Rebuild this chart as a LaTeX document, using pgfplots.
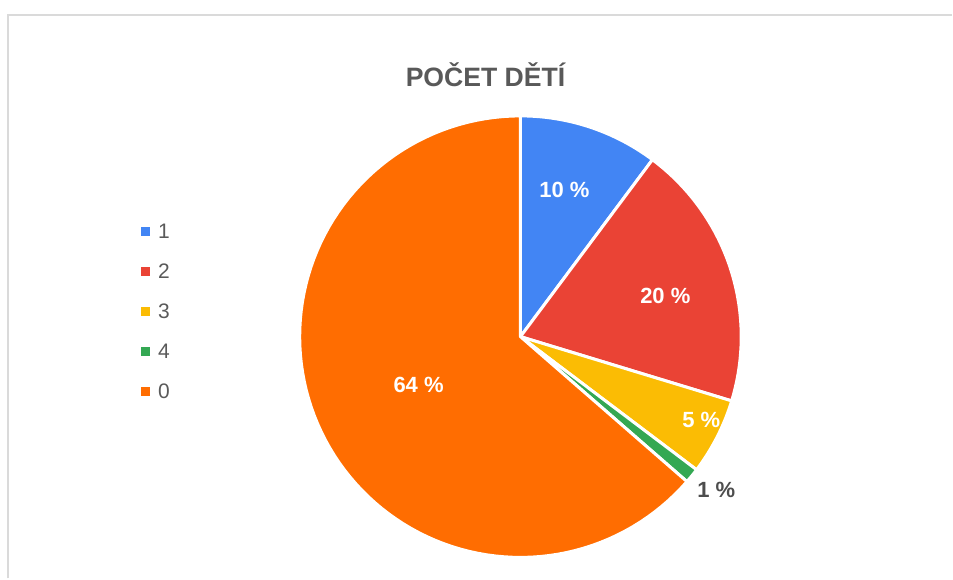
\documentclass[border=0pt]{standalone}
\usepackage{pgfplots}
\pgfplotsset{compat=1.18}
\usepackage{fontspec}
\setmainfont{Liberation Sans}
\definecolor{c1}{HTML}{4285F4}
\definecolor{c2}{HTML}{EA4335}
\definecolor{c3}{HTML}{FBBC04}
\definecolor{c4}{HTML}{34A853}
\definecolor{c0}{HTML}{FF6D01}
\definecolor{frame}{HTML}{DADADA}
\definecolor{ttl}{HTML}{595959}
\definecolor{lbl}{HTML}{4D4D4D}
\definecolor{leg}{HTML}{5A5A5A}
\begin{document}
\begin{tikzpicture}
\begin{axis}[
  scale only axis, width=476.5pt, height=289.5pt,
  xmin=-521, xmax=432, ymin=-242, ymax=337,
  hide axis, clip=false,
]
\fill[white] (axis cs:-521,-242) rectangle (axis cs:432,337);
\draw[frame, line width=1pt] (axis cs:-513,-242) -- (axis cs:-513,321.5) -- (axis cs:432,321.5);
% slices: 10.2, 19.5, 5.6, 1.1, 63.6 percent (clockwise from top)
\addplot[fill=c1, draw=white, line width=1.5pt, line join=round, data cs=polar, domain=90:53.28, samples=30] {221} -- (axis cs:0,0) -- cycle;
\addplot[fill=c2, draw=white, line width=1.5pt, line join=round, data cs=polar, domain=53.28:-16.92, samples=40] {221} -- (axis cs:0,0) -- cycle;
\addplot[fill=c3, draw=white, line width=1.5pt, line join=round, data cs=polar, domain=-16.92:-37.08, samples=20] {221} -- (axis cs:0,0) -- cycle;
\addplot[fill=c4, draw=white, line width=1.5pt, line join=round, data cs=polar, domain=-37.08:-41.04, samples=6] {221} -- (axis cs:0,0) -- cycle;
\addplot[fill=c0, draw=white, line width=1.5pt, line join=round, data cs=polar, domain=-41.04:-270, samples=100] {221} -- (axis cs:0,0) -- cycle;
% legend
\foreach \c/\t/\y in {c1/1/0, c2/2/40, c3/3/80, c4/4/120, c0/0/160} {
  \edef\temp{\noexpand\fill[\c] (axis cs:-380,{109.5-\y}) rectangle (axis cs:-371,{100.5-\y});
  \noexpand\node[anchor=base west, inner sep=0pt, font=\noexpand\fontsize{10.5pt}{12pt}\noexpand\selectfont, text=leg] at (axis cs:-363,{98-\y}) {\t};}
  \temp
}
\node[font=\fontsize{13.3pt}{13.3pt}\selectfont\bfseries, text=ttl] at (axis cs:-35,262) {POČET DĚTÍ};
\node[font=\fontsize{11pt}{11pt}\selectfont\bfseries, text=white] at (axis cs:44,147) {10 \%};
\node[font=\fontsize{11pt}{11pt}\selectfont\bfseries, text=white] at (axis cs:145,41) {20 \%};
\node[font=\fontsize{11pt}{11pt}\selectfont\bfseries, text=white] at (axis cs:181,-83) {5 \%};
\node[font=\fontsize{11pt}{11pt}\selectfont\bfseries, text=white] at (axis cs:-102,-48) {64 \%};
\node[font=\fontsize{11pt}{11pt}\selectfont\bfseries, text=lbl] at (axis cs:196,-153) {1 \%};
\end{axis}
\end{tikzpicture}
\end{document}
